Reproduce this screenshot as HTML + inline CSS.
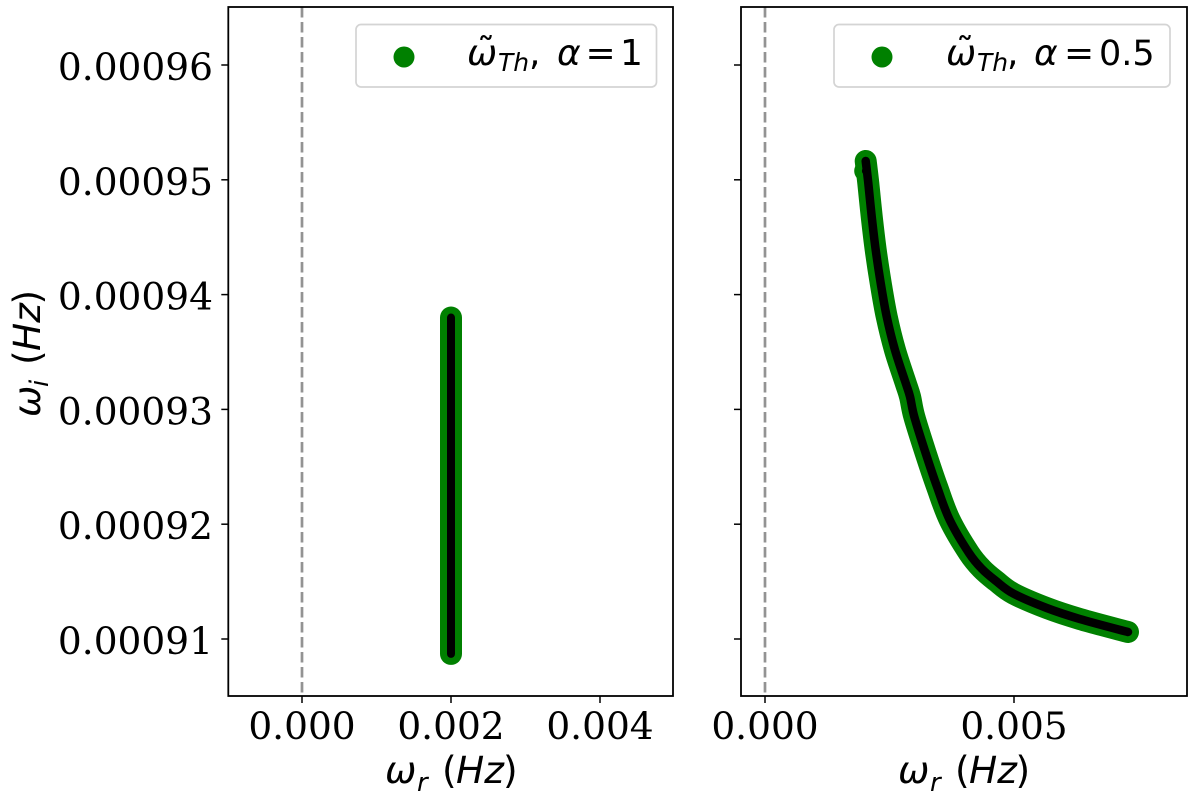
<!DOCTYPE html>
<html>
<head>
<meta charset="utf-8">
<title>Frequency chart</title>
<style>
html,body{margin:0;padding:0;background:#fff;}
svg{display:block;}
.tick-label{font-family:"DejaVu Serif","Liberation Serif",serif;font-size:37.5px;fill:#000;}
.math{font-family:"DejaVu Sans","Liberation Sans",sans-serif;fill:#000;}
.it{font-style:italic;}
</style>
</head>
<body>
<svg id="chart" xmlns="http://www.w3.org/2000/svg" width="1200" height="796" viewBox="0 0 1200 796">
  <g id="panel-left"></g>
  <g id="panel-right"></g>

  <g>
    <text class="math it" x="385" y="783" font-size="37.5">ω</text>
    <text class="math it" x="417" y="791" font-size="26">r</text>
    <text class="math" x="442" y="783" font-size="37.5">(</text>
    <text class="math it" x="456" y="783" font-size="37.5">Hz</text>
    <text class="math" x="503" y="783" font-size="37.5">)</text>
  </g>
  <g>
    <text class="math it" x="898" y="783" font-size="37.5">ω</text>
    <text class="math it" x="930" y="791" font-size="26">r</text>
    <text class="math" x="955" y="783" font-size="37.5">(</text>
    <text class="math it" x="969" y="783" font-size="37.5">Hz</text>
    <text class="math" x="1015.5" y="783" font-size="37.5">)</text>
  </g>
  <g transform="translate(40,417) rotate(-90)">
    <text class="math it" x="0" y="0" font-size="37.5">ω</text>
    <text class="math it" x="30" y="8" font-size="26">i</text>
    <text class="math" x="52" y="0" font-size="37.5">(</text>
    <text class="math it" x="66" y="0" font-size="37.5">Hz</text>
    <text class="math" x="112.5" y="0" font-size="37.5">)</text>
  </g>

  <g>
    <rect x="356" y="24.5" width="300.5" height="62.5" rx="5" fill="#fff" fill-opacity="0.8" stroke="#d4d4d4" stroke-width="1.7"/>
    <circle cx="404" cy="57" r="10.5" fill="#008000"/>
    <text class="math it" x="467" y="65" font-size="36">ω</text>
    <text class="math" x="477" y="63" font-size="36">˜</text>
    <text class="math it" x="498" y="71" font-size="25">Th</text>
    <text class="math" x="529" y="65" font-size="36">,</text>
    <text class="math it" x="557" y="65" font-size="36">α</text>
    <text class="math" x="585.5" y="65" font-size="36">=</text>
    <text class="math" x="620" y="65" font-size="36">1</text>
  </g>
  <g>
    <rect x="834" y="24.5" width="336" height="62.5" rx="5" fill="#fff" fill-opacity="0.8" stroke="#d4d4d4" stroke-width="1.7"/>
    <circle cx="882" cy="57" r="10.5" fill="#008000"/>
    <text class="math it" x="946" y="65" font-size="36">ω</text>
    <text class="math" x="956" y="63" font-size="36">˜</text>
    <text class="math it" x="977" y="71" font-size="25">Th</text>
    <text class="math" x="1007" y="65" font-size="36">,</text>
    <text class="math it" x="1034" y="65" font-size="36">α</text>
    <text class="math" x="1064" y="65" font-size="36">=</text>
    <text class="math" x="1099" y="65" font-size="35">0.5</text>
  </g>
</svg>
<script>
var yTickLabels = ['0.00091','0.00092','0.00093','0.00094','0.00095','0.00096'];
var xTickLabelsLeft = ['0.000','0.002','0.004'];
var xTickLabelsRight = ['0.000','0.005'];

var omegaRealLeft = [0.002,0.002,0.002,0.002,0.002,0.002,0.002];
var omegaImagLeft = [0.000938,0.000933,0.000928,0.000923,0.000918,0.000913,0.0009087];

var omegaRealRight = [0.002022,0.002074,0.002143,0.002223,0.002323,0.002444,0.00261,0.002825,0.002912,0.002998,0.003227,0.003454,0.003709,0.004096,0.004357,0.004639,0.004986,0.005657,0.006325,0.007289];
var omegaImagRight = [0.00095164,0.00094972,0.00094679,0.00094389,0.00094101,0.00093808,0.00093517,0.0009323,0.00093111,0.00092936,0.00092618,0.00092327,0.00092037,0.00091749,0.0009161,0.00091505,0.00091396,0.0009127,0.00091174,0.00091061];

var startRealRight = [0.002006];
var startImagRight = [0.00095077];

var NS = 'http://www.w3.org/2000/svg';

function yScale(v){ return 639 - (v - 0.00091) / 0.00001 * 114.8; }
function xScaleLeft(v){ return 302 + v / 0.002 * 149; }
function xScaleRight(v){ return 765 + v / 0.005 * 249; }

function make(parent, tag, attrs){
  var el = document.createElementNS(NS, tag);
  for (var k in attrs) el.setAttribute(k, attrs[k]);
  parent.appendChild(el);
  return el;
}

function curvePath(xs, ys, xScale){
  var p = xs.map(function(v, i){ return [xScale(v), yScale(ys[i])]; });
  var d = 'M' + p[0][0] + ' ' + p[0][1];
  for (var i = 0; i < p.length - 1; i++){
    var a = p[Math.max(i - 1, 0)], b = p[i], c = p[i + 1], e = p[Math.min(i + 2, p.length - 1)];
    d += ' C' + (b[0] + (c[0] - a[0]) / 6) + ' ' + (b[1] + (c[1] - a[1]) / 6) + ' ' +
         (c[0] - (e[0] - b[0]) / 6) + ' ' + (c[1] - (e[1] - b[1]) / 6) + ' ' + c[0] + ' ' + c[1];
  }
  return d;
}

function drawPanel(group, side, left, right, xScale, xLabels, xs, ys, startXs, startYs, innerWidth, showYLabels){
  var top = 7, bottom = 696;

  var zero = make(group, 'line', {x1: xScale(0), x2: xScale(0), y1: top, y2: bottom, stroke: '#939393', 'stroke-width': 2.7, 'stroke-dasharray': '10.5 4.5'});
  
  

  startXs.forEach(function(v, i){
    var dot = make(group, 'circle', {cx: xScale(v), cy: yScale(startYs[i]), r: 10.7, fill: '#008000'});
    
    
  });

  var outer = make(group, 'path', {d: curvePath(xs, ys, xScale), fill: 'none', stroke: '#008000', 'stroke-width': 22, 'stroke-linecap': 'round', 'stroke-linejoin': 'round'});
  
  

  startXs.forEach(function(v, i){
    var core = make(group, 'circle', {cx: xScale(v) + 1, cy: yScale(startYs[i]), r: 4, fill: '#000'});
    
    
  });

  var inner = make(group, 'path', {d: curvePath(xs, ys, xScale), fill: 'none', stroke: '#000', 'stroke-width': innerWidth, 'stroke-linecap': 'round', 'stroke-linejoin': 'round'});
  
  

  var frame = make(group, 'rect', {x: left, y: top, width: right - left, height: bottom - top, fill: 'none', stroke: '#000', 'stroke-width': 1.8});
  
  

  xLabels.forEach(function(label){
    var x = xScale(parseFloat(label));
    var tick = make(group, 'line', {x1: x, x2: x, y1: bottom, y2: bottom + 7, stroke: '#000', 'stroke-width': 1.5});
    
    
    var text = make(group, 'text', {x: x, y: 739, 'text-anchor': 'middle', 'class': 'tick-label'});
    text.textContent = label;
    
    
  });

  yTickLabels.forEach(function(label){
    var y = yScale(parseFloat(label));
    var tick = make(group, 'line', {x1: left - 7, x2: left, y1: y, y2: y, stroke: '#000', 'stroke-width': 1.5});
    
    
    if (showYLabels){
      var text = make(group, 'text', {x: 213, y: y + 15, 'text-anchor': 'end', 'class': 'tick-label'});
      text.textContent = label;
      
      
    }
  });
}

drawPanel(document.getElementById('panel-left'), 'left', 228.3, 673, xScaleLeft, xTickLabelsLeft, omegaRealLeft, omegaImagLeft, [], [], 8, true);
drawPanel(document.getElementById('panel-right'), 'right', 741, 1187, xScaleRight, xTickLabelsRight, omegaRealRight, omegaImagRight, startRealRight, startImagRight, 8.5, false);
</script>
</body>
</html>
